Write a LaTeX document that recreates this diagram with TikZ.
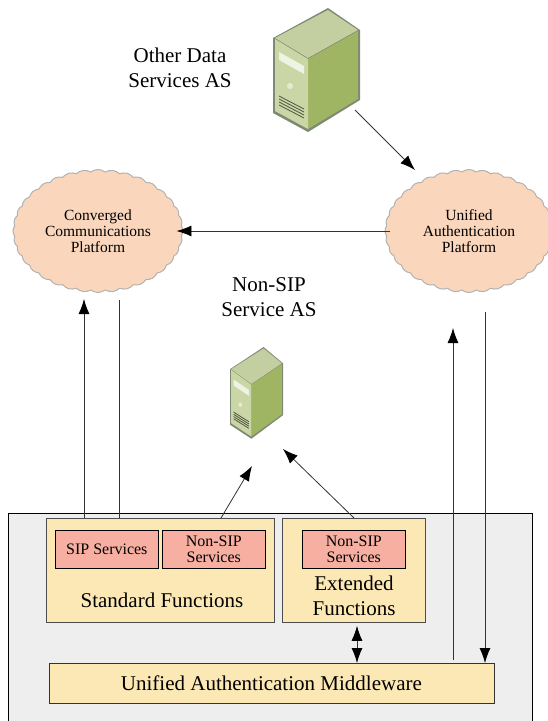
\documentclass[tikz,border=0pt]{standalone}
\usepackage{fontspec}
\setmainfont{Liberation Serif}
\usepackage{tikz}
\usetikzlibrary{shapes.symbols,arrows.meta}

\definecolor{cloudfill}{HTML}{FAD7BC}
\definecolor{boxfill}{HTML}{FCE8B4}
\definecolor{svcfill}{HTML}{F6AFA0}
\definecolor{panelfill}{HTML}{EEEEEE}
\definecolor{srvtop}{HTML}{C3CFA0}
\definecolor{srvfront}{HTML}{CBD6A6}
\definecolor{srvside}{HTML}{A0B563}
\definecolor{srvedge}{HTML}{7F8A72}

\tikzset{
    cloudnode/.style={cloud,cloud puffs=36,cloud puff arc=75,aspect=1.35,draw=black!30,line width=1pt,fill=cloudfill,
        inner sep=0pt,align=center,font=\fontsize{15.5}{16}\selectfont},
    funcbox/.style={draw=black!70,line width=.8pt,fill=boxfill,anchor=north west,align=center,
        inner sep=0pt,font=\fontsize{21}{24}\selectfont},
    svcbox/.style={draw=black,line width=.6pt,fill=svcfill,anchor=north west,align=center,
        inner sep=0pt,minimum width=103pt,minimum height=38pt,font=\fontsize{16}{16.5}\selectfont},
    caption/.style={align=center,font=\fontsize{21}{24.5}\selectfont},
    link/.style={line width=.8pt,black!80},
    arrow/.style={link,-{Latex[length=15pt,width=11pt,color=black]}},
    biarrow/.style={link,{Latex[length=15pt,width=11pt,color=black]}-{Latex[length=15pt,width=11pt,color=black]}},
    server/.pic={
        \fill[srvedge] (0,30) -- (55,0) -- (87,22) -- (87,92) -- (35,124) -- (0,105) -- cycle;
        \fill[srvside] (35,51) -- (85,23) -- (85,91) -- (35,121) -- cycle;
        \fill[srvfront] (2,31) -- (35,51) -- (35,121) -- (2,103) -- cycle;
        \fill[srvtop] (2,30) -- (55,2) -- (85,22) -- (35,50) -- cycle;
        \fill[white!70!srvfront] (6,44) -- (31,58) -- (31,66) -- (6,52) -- cycle;
        \foreach \i in {0,3,6,9}
            \draw[black!60!srvfront,line width=.8pt] (6,88+\i) -- (31,101+\i);
        \fill[white!50!srvfront] (17,78) circle (3);
    }
}

\begin{document}
\begin{tikzpicture}[x=1pt,y=-1pt]
    \useasboundingbox (0,0) rectangle (547,721);

    % servers
    \pic[scale=1] at (273,8) {server};
    \pic[xscale=.61,yscale=.74] at (230,347) {server};

    \node[caption] (otherdata) at (180,68) {Other Data\\Services AS};
    \node[caption] (nonsiplabel) at (269,297) {Non-SIP\\Service AS};
    \coordinate (topserver) at (355,110);
    \coordinate (topcloud) at (415,170);
    \coordinate (midservera) at (252,466);
    \coordinate (midserverb) at (283,449);

    % clouds
    \node[cloudnode,minimum width=170pt,minimum height=123pt] (converged) at (98,231) {Converged\\Communications\\Platform};
    \node[cloudnode,minimum width=168pt,minimum height=123pt] (unified) at (469,231) {Unified\\Authentication\\Platform};

    % panel
    \draw[line width=.6pt,fill=panelfill] (8.5,730) -- (8.5,513) -- (532.5,513) -- (532.5,730);
    \node[funcbox,minimum width=228pt,minimum height=104pt] (standard) at (46,518) {};
    \node[funcbox,minimum width=143pt,minimum height=104pt] (extended) at (282,518) {};
    \node[funcbox,draw=black!80,minimum width=445pt,minimum height=40pt] (middleware) at (48.5,663) {Unified Authentication Middleware};
    \node[svcbox] (sip) at (55,530) {SIP Services};
    \node[svcbox] (nonsipa) at (162,530) {Non-SIP\\Services};
    \node[svcbox] (nonsipb) at (302,530) {Non-SIP\\Services};
    \node[caption] (stdlabel) at (162,600) {Standard Functions};
    \node[caption] (extlabel) at (354,596) {Extended\\Functions};
    \coordinate (convergedup) at (84,299);
    \coordinate (convergeddown) at (119,300);
    \coordinate (unifiedup) at (453,328);
    \coordinate (unifieddown) at (485,312);

    % connectors
    \draw[arrow] (topserver) -- (topcloud);
    \draw[arrow] ([xshift=5pt]unified.west) -- ([xshift=-7pt]converged.east);
    \draw[arrow] ([xshift=38pt]standard.north west) -- (convergedup);
    \draw[link] ([xshift=73pt]standard.north west) -- (convergeddown);
    \draw[arrow] ([xshift=175pt]standard.north west) -- (midservera);
    \draw[arrow] ([xshift=72pt]extended.north west) -- (midserverb);
    \draw[biarrow] ([xshift=75pt,yshift=-3pt]extended.south west) -- ([xshift=308.5pt]middleware.north west);
    \draw[arrow] ([xshift=404.5pt,yshift=3pt]middleware.north west) -- (unifiedup);
    \draw[arrow] (unifieddown) -- ([xshift=436.5pt]middleware.north west);
\end{tikzpicture}
\end{document}
